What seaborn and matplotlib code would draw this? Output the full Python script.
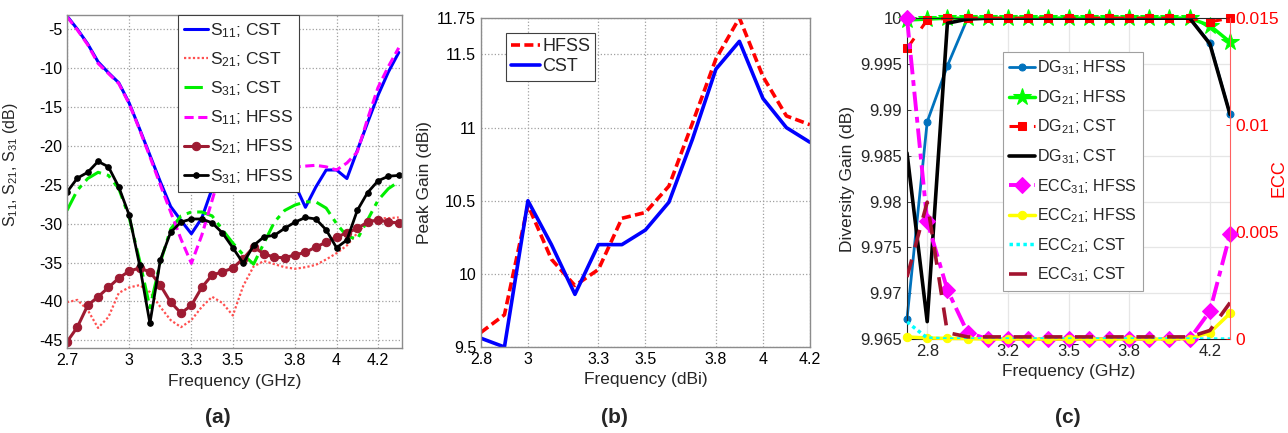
import numpy as np
import seaborn as sns
import matplotlib.pyplot as plt

# ---- panel (a): S-parameters ----
fa = np.round(np.arange(2.7, 4.301, 0.05), 2)
s11_cst = [-3.3, -5.0, -6.9, -9.2, -10.6, -11.9, -14.5, -17.8, -21.2, -24.6, -27.8, -29.6, -31.3,
           -29.3, -25.5, -21.0, -18.0, -16.5, -16.0, -17.0, -19.0, -22.5, -25.0, -27.9, -25.3,
           -23.1, -23.1, -24.2, -20.6, -17.0, -13.5, -10.5, -8.0]
s11_hfss = [-3.4, -5.1, -7.0, -9.4, -10.7, -12.0, -14.6, -17.9, -21.4, -25.0, -28.5, -32.0, -35.1,
            -31.5, -27.0, -22.5, -19.5, -18.5, -18.5, -19.5, -21.0, -22.3, -22.7, -22.6, -22.5,
            -22.7, -23.1, -22.2, -20.8, -16.5, -12.5, -9.8, -7.4]
s21_cst = [-40.1, -39.8, -41.1, -43.4, -42.0, -38.9, -38.2, -37.9, -38.8, -40.7, -42.4, -43.3, -42.4,
           -40.7, -39.4, -40.2, -41.8, -38.0, -35.5, -34.8, -35.2, -35.6, -35.8, -35.6, -35.3,
           -34.6, -33.8, -32.8, -31.2, -29.8, -29.3, -29.3, -29.2]
s21_hfss = [-45.2, -43.3, -40.5, -39.4, -38.2, -37.0, -36.1, -35.7, -36.2, -37.9, -40.1, -41.5, -40.5,
            -38.2, -36.6, -36.2, -35.7, -34.5, -33.0, -33.9, -34.3, -34.4, -34.0, -33.7, -33.0,
            -32.4, -31.7, -31.2, -30.6, -29.8, -29.5, -29.8, -29.9]
s31_cst = [-28.3, -25.7, -24.2, -23.4, -23.8, -25.5, -29.2, -34.7, -40.8, -35.0, -30.7, -29.0, -28.5,
           -28.5, -29.0, -30.8, -32.5, -34.0, -35.2, -32.5, -29.8, -28.3, -27.6, -27.2, -27.2,
           -28.0, -30.0, -31.6, -32.0, -29.5, -27.0, -25.5, -24.6]
s31_hfss = [-25.95, -24.15, -23.4, -22.0, -22.7, -25.3, -28.9, -35.3, -42.8, -34.7, -31.1, -29.8, -29.4,
            -29.4, -29.9, -31.2, -33.1, -35.1, -32.8, -31.7, -31.5, -30.6, -29.8, -29.2, -29.4,
            -30.8, -33.1, -32.1, -28.3, -26.0, -24.5, -23.9, -23.8]

# ---- panel (b): peak gain ----
fb = np.round(np.arange(2.8, 4.201, 0.1), 1)
gain_hfss = [9.60, 9.72, 10.47, 10.10, 9.92, 10.03, 10.38, 10.42, 10.60, 11.03, 11.47, 11.75, 11.35, 11.08, 11.02]
gain_cst = [9.56, 9.50, 10.50, 10.20, 9.86, 10.20, 10.20, 10.30, 10.49, 10.92, 11.40, 11.59, 11.20, 11.00, 10.90]

# ---- panel (c): diversity gain and ECC ----
fc = np.round(np.arange(2.7, 4.301, 0.1), 1)
dg31_hfss = [9.9672, 9.9887, 9.9948, 10.0, 10.0, 10.0, 10.0, 10.0, 10.0, 10.0, 10.0, 10.0, 10.0, 10.0, 10.0, 9.9973, 9.9895]
dg21_hfss = [9.9998, 9.9999, 10.0, 10.0, 10.0, 10.0, 10.0, 10.0, 10.0, 10.0, 10.0, 10.0, 10.0, 10.0, 10.0, 9.9992, 9.9974]
dg21_cst = [9.9967, 9.9998, 10.0, 10.0, 10.0, 10.0, 10.0, 10.0, 10.0, 10.0, 10.0, 10.0, 10.0, 10.0, 10.0, 9.9996, 10.0]
dg31_cst = [9.9853, 9.9669, 9.99945, 9.9999, 10.0, 10.0, 10.0, 10.0, 10.0, 10.0, 10.0, 10.0, 10.0, 10.0, 10.0, 9.9972, 9.9895]
ecc31_hfss = [0.0150, 0.0055, 0.0023, 0.0003, 0.0, 0.0, 0.0, 0.0, 0.0, 0.0, 0.0, 0.0, 0.0, 0.0, 0.0, 0.0013, 0.0049]
ecc21_hfss = [0.0001, 0.00005, 0.00003, 0.00002, 0.0, 0.0, 0.0, 0.0, 0.0, 0.0, 0.0, 0.0, 0.0, 0.0, 0.00002, 0.0003, 0.0012]
ecc21_cst = [0.0008, 0.00005, 0.0, 0.0, 0.0, 0.0, 0.0, 0.0, 0.0, 0.0, 0.0, 0.0, 0.0, 0.0, 0.0, 0.0, 0.0]
ecc31_cst = [0.0029, 0.0064, 0.0003, 0.0001, 0.0001, 0.0001, 0.0001, 0.0001, 0.0001, 0.0001, 0.0001, 0.0001, 0.0001, 0.0001, 0.0001, 0.0004, 0.0017]

sns.set_style("white")
plt.rcParams['font.family'] = ['Liberation Sans', 'DejaVu Sans']
plt.rcParams['mathtext.fontset'] = 'custom'
plt.rcParams['mathtext.rm'] = 'Liberation Sans'
plt.rcParams['mathtext.it'] = 'Liberation Sans:italic'
plt.rcParams['axes.unicode_minus'] = False

fig = plt.figure(figsize=(12.88, 4.33), dpi=100)
ax_a = fig.add_axes([0.052, 0.196, 0.260, 0.769])
ax_b = fig.add_axes([0.3734, 0.1986, 0.2554, 0.760])
ax_c = fig.add_axes([0.7042, 0.217, 0.2508, 0.741])


def matlab_box(ax, color='#8c8c8c'):
    for s in ax.spines.values():
        s.set_color(color)
        s.set_linewidth(1.0)
    ax.tick_params(direction='in', length=4, labelsize=11.5, colors='black', width=0.8)


# (a)
sns.lineplot(x=fa, y=s11_cst, ax=ax_a, color='#0000ff', lw=2.2, label='S$_{11}$; CST', sort=False)
sns.lineplot(x=fa, y=s21_cst, ax=ax_a, color='#ff5050', lw=1.6, linestyle=(0, (1, 1)), label='S$_{21}$; CST', sort=False)
sns.lineplot(x=fa, y=s31_cst, ax=ax_a, color='#00ee00', lw=2.2, linestyle=(0, (6, 2, 1.5, 2)), label='S$_{31}$; CST', sort=False)
sns.lineplot(x=fa, y=s11_hfss, ax=ax_a, color='#ff00ff', lw=2.2, linestyle=(0, (3, 1.5)), label='S$_{11}$; HFSS', sort=False)
sns.lineplot(x=fa, y=s21_hfss, ax=ax_a, color='#9e1b32', lw=2.2, marker='o', ms=6, mec='#9e1b32', label='S$_{21}$; HFSS', sort=False)
sns.lineplot(x=fa, y=s31_hfss, ax=ax_a, color='black', lw=2.0, marker='o', ms=4, mec='black', label='S$_{31}$; HFSS', sort=False)
ax_a.set_xlim(2.7, 4.315)
ax_a.set_ylim(-46, -3.2)
ax_a.set_xticks([2.7, 3, 3.3, 3.5, 3.8, 4, 4.2])
ax_a.set_xticklabels(['2.7', '3', '3.3', '3.5', '3.8', '4', '4.2'])
ax_a.set_yticks(range(-45, 0, 5))
ax_a.grid(True, linestyle=':', color='#a0a0a0', lw=0.9)
ax_a.set_xlabel('Frequency (GHz)', fontsize=12.5)
ax_a.set_ylabel('S$_{11}$, S$_{21}$, S$_{31}$ (dB)', fontsize=11.5)
ax_a.yaxis.set_label_coords(-0.14, 0.55)
matlab_box(ax_a)
h, l = ax_a.get_legend_handles_labels()
leg = ax_a.legend(h, l, loc='upper left', bbox_to_anchor=(0.331, 1.0), borderaxespad=0,
                  fontsize=12.5, handlelength=1.4, handletextpad=0.1, labelspacing=0.6,
                  frameon=True, fancybox=False, framealpha=1, edgecolor='#404040', borderpad=0.35)
leg.get_frame().set_linewidth(0.8)

# (b)
sns.lineplot(x=fb, y=gain_hfss, ax=ax_b, color='#ff0000', lw=2.6, linestyle=(0, (2.5, 1.2)), label='HFSS', sort=False)
sns.lineplot(x=fb, y=gain_cst, ax=ax_b, color='#0000ff', lw=2.6, label='CST', sort=False)
ax_b.set_xlim(2.8, 4.2)
ax_b.set_ylim(9.5, 11.75)
ax_b.set_xticks([2.8, 3, 3.3, 3.5, 3.8, 4, 4.2])
ax_b.set_xticklabels(['2.8', '3', '3.3', '3.5', '3.8', '4', '4.2'])
ax_b.set_yticks([9.5, 10, 10.5, 11, 11.5, 11.75])
ax_b.set_yticklabels(['9.5', '10', '10.5', '11', '11.5', '11.75'])
ax_b.grid(True, linestyle=':', color='#a0a0a0', lw=0.9)
ax_b.set_xlabel('Frequency (dBi)', fontsize=12.5)
ax_b.set_ylabel('Peak Gain (dBi)', fontsize=12.5, labelpad=4)
matlab_box(ax_b)
h, l = ax_b.get_legend_handles_labels()
leg = ax_b.legend(h, l, loc='upper left', bbox_to_anchor=(0.076, 0.954), borderaxespad=0,
                  fontsize=13, handlelength=1.6, handletextpad=0.1, labelspacing=0.15,
                  frameon=True, fancybox=False, framealpha=1, edgecolor='#404040', borderpad=0.3)
leg.get_frame().set_linewidth(0.8)

# (c)
ax_r = ax_c.twinx()
sns.lineplot(x=fc, y=dg31_hfss, ax=ax_c, color='#0072bd', lw=2.0, marker='o', ms=5, mec='#0072bd', label='DG$_{31}$; HFSS', sort=False, clip_on=False)
sns.lineplot(x=fc, y=dg21_hfss, ax=ax_c, color='#00ff00', lw=2.5, marker='*', ms=13, mec='#00ff00', label='DG$_{21}$; HFSS', sort=False, clip_on=False)
sns.lineplot(x=fc, y=dg21_cst, ax=ax_c, color='#ff0000', lw=2.2, linestyle=(0, (4, 4)), marker='s', ms=6, mec='#ff0000', label='DG$_{21}$; CST', sort=False, clip_on=False)
sns.lineplot(x=fc, y=dg31_cst, ax=ax_c, color='black', lw=2.6, label='DG$_{31}$; CST', sort=False)
sns.lineplot(x=fc, y=ecc31_hfss, ax=ax_r, color='#ff00ff', lw=2.8, linestyle=(0, (5, 1.5, 1.5, 1.5)), marker='D', ms=8, mec='#ff00ff', label='ECC$_{31}$; HFSS', sort=False, clip_on=False)
sns.lineplot(x=fc, y=ecc21_hfss, ax=ax_r, color='#ffff00', lw=2.5, marker='o', ms=6, mec='#ffff00', label='ECC$_{21}$; HFSS', sort=False, clip_on=False)
sns.lineplot(x=fc, y=ecc21_cst, ax=ax_r, color='#00ffff', lw=2.5, linestyle=(0, (1, 1)), label='ECC$_{21}$; CST', sort=False)
sns.lineplot(x=fc, y=ecc31_cst, ax=ax_r, color='#a2142f', lw=2.6, linestyle=(0, (5, 3.5)), label='ECC$_{31}$; CST', sort=False)
ax_c.set_xlim(2.7, 4.3)
ax_c.set_ylim(9.965, 10.0)
ax_r.set_ylim(0, 0.015)
ax_c.set_xticks([2.8, 3.2, 3.5, 3.8, 4.2])
ax_c.set_xticklabels(['2.8', '3.2', '3.5', '3.8', '4.2'])
ax_c.set_yticks([9.965, 9.97, 9.975, 9.98, 9.985, 9.99, 9.995, 10.0])
ax_c.set_yticklabels(['9.965', '9.97', '9.975', '9.98', '9.985', '9.99', '9.995', '10'])
ax_r.set_yticks([0, 0.005, 0.01, 0.015])
ax_r.set_yticklabels(['0', '0.005', '0.01', '0.015'])
ax_c.grid(True, linestyle='-', color='#e6e6e6', lw=0.9)
ax_c.set_xlabel('Frequency (GHz)', fontsize=12.5)
ax_c.set_ylabel('Diversity Gain (dB)', fontsize=12.5, labelpad=4)
ax_r.set_ylabel('ECC', fontsize=13, color='#ff0000')
ax_r.yaxis.set_label_coords(1.124, 0.5)
for s in ax_c.spines.values():
    s.set_color('#262626')
    s.set_linewidth(0.8)
for s in ax_r.spines.values():
    s.set_visible(False)
ax_r.spines['right'].set_visible(True)
ax_r.spines['right'].set_color('#ff6060')
ax_r.spines['right'].set_linewidth(0.8)
ax_c.spines['right'].set_visible(False)
ax_c.tick_params(direction='in', length=3, labelsize=12, width=0.6)
ax_r.tick_params(direction='in', length=3, labelsize=12.5, colors='#ff0000', width=0.6)
if ax_c.get_legend():
    ax_c.get_legend().remove()
h1, l1 = ax_c.get_legend_handles_labels()
h2, l2 = ax_r.get_legend_handles_labels()
leg = ax_r.legend(h1 + h2, l1 + l2, loc='upper left', bbox_to_anchor=(0.297, 0.894), borderaxespad=0,
                  fontsize=11.5, handlelength=1.6, handletextpad=0.15, labelspacing=0.68,
                  frameon=True, fancybox=False, framealpha=1, edgecolor='#a0a0a0', borderpad=0.4)
leg.get_frame().set_linewidth(0.8)

fig.text(0.169, 0.035, '(a)', fontsize=15, fontweight='bold', ha='center', va='center')
fig.text(0.477, 0.035, '(b)', fontsize=15, fontweight='bold', ha='center', va='center')
fig.text(0.829, 0.035, '(c)', fontsize=15, fontweight='bold', ha='center', va='center')

fig.savefig('out.png', dpi=100)
